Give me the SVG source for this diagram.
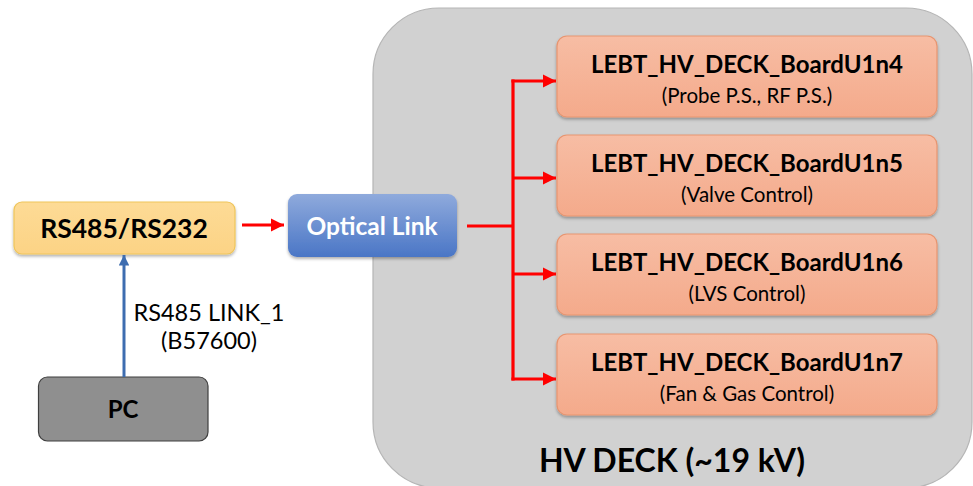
<svg xmlns="http://www.w3.org/2000/svg" width="973" height="486" viewBox="0 0 973 486">
<defs>
<linearGradient id="gBoard" x1="0" y1="0" x2="0" y2="1">
<stop offset="0" stop-color="#F7BDA4"/>
<stop offset="1" stop-color="#F4AA8B"/>
</linearGradient>
<linearGradient id="gOpt" x1="0" y1="0" x2="0" y2="1">
<stop offset="0" stop-color="#8FAADC"/>
<stop offset="1" stop-color="#4A76C6"/>
</linearGradient>
<linearGradient id="gRs" x1="0" y1="0" x2="0" y2="1">
<stop offset="0" stop-color="#FDDB96"/>
<stop offset="1" stop-color="#FCD385"/>
</linearGradient>
<filter id="sh" x="-10%" y="-10%" width="120%" height="130%">
<feDropShadow dx="0" dy="2" stdDeviation="1.5" flood-color="#000" flood-opacity="0.3"/>
</filter>
<marker id="ahR" viewBox="0 0 10 10" refX="10" refY="5" markerWidth="4.2" markerHeight="4.2" orient="auto" markerUnits="strokeWidth">
<path d="M0,0 L10,5 L0,10 z" fill="#FF0000"/>
</marker>
<marker id="ahB" viewBox="0 0 10 10" refX="10" refY="5" markerWidth="3.5" markerHeight="3.5" orient="auto" markerUnits="strokeWidth">
<path d="M0,0 L10,5 L0,10 z" fill="#3E6DB0"/>
</marker>
</defs>
<style>
text { font-family: Lato, "Open Sans", sans-serif; text-anchor: middle; fill: #000; }
.board { fill: url(#gBoard); stroke: #E89570; stroke-width: 1.2; filter: url(#sh); }
.t { font-weight: bold; font-size: 24px; }
.s { font-size: 20.5px; }
.red { stroke: #FF0000; stroke-width: 3.2; fill: none; }
</style>

<g id="hv-deck">
<rect x="373" y="8" width="599" height="480" rx="66" ry="66" fill="#D1D1D1" stroke="#B5B5B5" stroke-width="1.2"/>
<text x="672" y="472" style="font-size:32px;font-weight:bold">HV DECK (~19 kV)</text>
</g>

<g id="rs485">
<rect x="14" y="202" width="221" height="52" rx="8" fill="url(#gRs)" stroke="#EFC55A" stroke-width="1.2" filter="url(#sh)"/>
<text x="124" y="238" style="font-size:26.5px;font-weight:bold">RS485/RS232</text>
</g>

<g id="optical">
<rect x="288" y="194" width="169" height="63" rx="9" fill="url(#gOpt)" filter="url(#sh)"/>
<text x="372" y="235" style="font-size:24.5px;font-weight:bold;fill:#fff">Optical Link</text>
</g>

<g id="pc">
<rect x="38.5" y="377" width="169.5" height="64" rx="9" fill="#8F8F8F" stroke="#3F3F3F" stroke-width="1.2"/>
<text x="123" y="418" style="font-size:24px;font-weight:bold">PC</text>
</g>

<g id="u1n4">
<rect class="board" x="557" y="36" width="380" height="81" rx="10"/>
<text class="t" x="747" y="73">LEBT_HV_DECK_BoardU1n4</text>
<text class="s" x="747" y="103">(Probe P.S., RF P.S.)</text>
</g>
<g id="u1n5">
<rect class="board" x="557" y="135" width="380" height="81" rx="10"/>
<text class="t" x="747" y="172">LEBT_HV_DECK_BoardU1n5</text>
<text class="s" x="747" y="202">(Valve Control)</text>
</g>
<g id="u1n6">
<rect class="board" x="557" y="234" width="380" height="81" rx="10"/>
<text class="t" x="747" y="271">LEBT_HV_DECK_BoardU1n6</text>
<text class="s" x="747" y="301">(LVS Control)</text>
</g>
<g id="u1n7">
<rect class="board" x="557" y="334" width="380" height="81" rx="10"/>
<text class="t" x="747" y="371">LEBT_HV_DECK_BoardU1n7</text>
<text class="s" x="747" y="401">(Fan &amp; Gas Control)</text>
</g>

<g id="connectors">
<line x1="124" y1="377" x2="124" y2="255" stroke="#3E6DB0" stroke-width="3" marker-end="url(#ahB)"/>
<text x="209" y="321" style="font-size:23.5px">RS485 LINK_1</text>
<text x="209" y="349" style="font-size:23.5px">(B57600)</text>
<line class="red" x1="242" y1="225" x2="284" y2="225" marker-end="url(#ahR)"/>
<line class="red" x1="467" y1="226" x2="513" y2="226"/>
<line class="red" x1="513" y1="79.4" x2="513" y2="380.6"/>
<polyline class="red" points="511.4,81 556,81" marker-end="url(#ahR)"/>
<polyline class="red" points="513,178 556,178" marker-end="url(#ahR)"/>
<polyline class="red" points="513,274 556,274" marker-end="url(#ahR)"/>
<polyline class="red" points="511.4,379 556,379" marker-end="url(#ahR)"/>
</g>
</svg>
